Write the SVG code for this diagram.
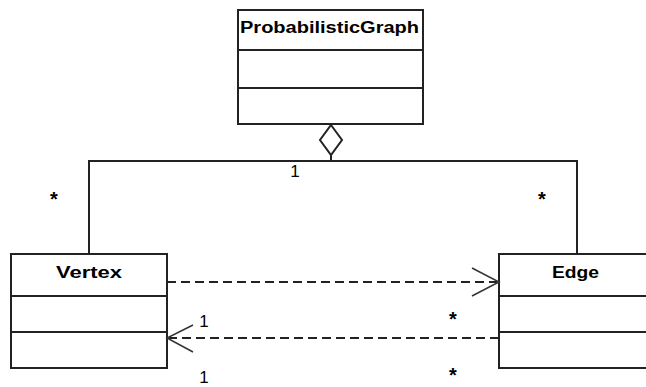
<svg xmlns="http://www.w3.org/2000/svg" width="646" height="387" viewBox="0 0 646 387">
  <style>
    .box { fill: #ffffff; stroke: #222222; stroke-width: 2; }
    .div { stroke: #222222; stroke-width: 2; }
    .title { font-family: "Liberation Sans", Arial, sans-serif; font-weight: bold; font-size: 16px; fill: #000; }
    .lbl { font-family: "Liberation Sans", Arial, sans-serif; font-size: 17px; fill: #000; }
    .star { font-family: "Liberation Sans", Arial, sans-serif; font-size: 20px; font-weight: bold; fill: #000; }
    .line { fill: none; stroke: #222222; stroke-width: 2; }
    .dash { fill: none; stroke: #222222; stroke-width: 2; stroke-dasharray: 9 5; }
    .head { fill: none; stroke: #333333; stroke-width: 1.5; }
  </style>

  <!-- class nodes -->
  <g id="ProbabilisticGraph">
    <rect class="box" x="238" y="10" width="185" height="114"/>
    <line class="div" x1="238" y1="50" x2="423" y2="50"/>
    <line class="div" x1="238" y1="88" x2="423" y2="88"/>
    <text class="title" x="240" y="33" textLength="179" lengthAdjust="spacingAndGlyphs">ProbabilisticGraph</text>
  </g>

  <g id="Vertex">
    <rect class="box" x="11" y="254" width="156" height="114"/>
    <line class="div" x1="11" y1="296" x2="167" y2="296"/>
    <line class="div" x1="11" y1="332" x2="167" y2="332"/>
    <text class="title" x="56" y="278" textLength="66" lengthAdjust="spacingAndGlyphs">Vertex</text>
  </g>

  <g id="Edge">
    <rect class="box" x="499" y="254" width="160" height="114"/>
    <line class="div" x1="499" y1="296" x2="659" y2="296"/>
    <line class="div" x1="499" y1="332" x2="659" y2="332"/>
    <text class="title" x="552" y="278" textLength="47" lengthAdjust="spacingAndGlyphs">Edge</text>
  </g>

  <!-- connectors -->
  <g id="connectors">
    <!-- aggregation from ProbabilisticGraph to Vertex and Edge -->
    <polygon class="line" points="331,125 342,140 331,155 320,140" stroke-width="1.5"/>
    <line class="line" x1="331" y1="155" x2="331" y2="161"/>
    <polyline class="line" points="89,254 89,161 577,161 577,254"/>

    <!-- dependency Vertex to Edge -->
    <line class="dash" x1="167" y1="282" x2="497" y2="282"/>
    <polyline class="head" points="472,268 499,282 472,296"/>

    <!-- dependency Edge to Vertex -->
    <line class="dash" x1="499" y1="338" x2="169" y2="338"/>
    <polyline class="head" points="193,325 167,338 193,352"/>
  </g>

  <!-- multiplicities -->
  <g id="labels">
    <text class="lbl" x="295" y="177" text-anchor="middle">1</text>
    <text class="star" x="54" y="206" text-anchor="middle">*</text>
    <text class="star" x="542" y="206" text-anchor="middle">*</text>
    <text class="lbl" x="204" y="327" text-anchor="middle">1</text>
    <text class="star" x="453" y="326" text-anchor="middle">*</text>
    <text class="lbl" x="204" y="383" text-anchor="middle">1</text>
    <text class="star" x="453" y="382" text-anchor="middle">*</text>
  </g>
</svg>
